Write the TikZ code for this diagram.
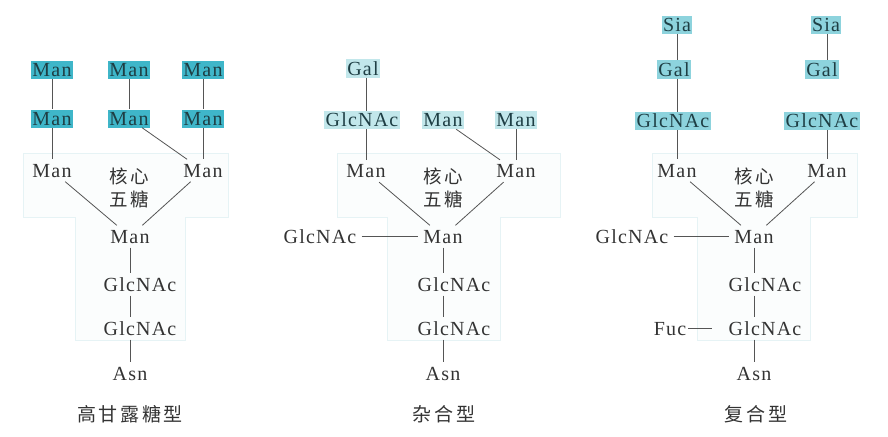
\documentclass[tikz,border=0pt]{standalone}
\usepackage{fontspec}
\setmainfont[LetterSpace=6]{Liberation Serif}
\newfontfamily\cjk[LetterSpace=14]{Noto Sans CJK SC}
\definecolor{hlA}{HTML}{3FB6C9}
\definecolor{hlB}{HTML}{C2E7EB}
\definecolor{hlC}{HTML}{8DD3DD}
\definecolor{txt}{HTML}{333333}
\definecolor{txtD}{HTML}{1E3E44}
\definecolor{bondc}{HTML}{555555}
\definecolor{corel}{HTML}{E6F3F5}
\definecolor{coref}{HTML}{FBFDFD}
\tikzset{
  sug/.style={inner xsep=5pt, inner ysep=4pt, text height=13.5pt, text depth=0.5pt,
    font=\fontsize{20}{22}\selectfont, text=txt},
  hbox/.style={sug, inner xsep=1.5pt, inner ysep=2pt, text=txtD},
  hA/.style={hbox, fill=hlA},
  hB/.style={hbox, fill=hlB},
  hC/.style={hbox, fill=hlC},
  corelab/.style={font=\cjk\fontsize{18.5}{23}\selectfont, text=txt, align=center, inner sep=0pt},
  typelab/.style={font=\cjk\fontsize{19}{20}\selectfont, text=txt, inner sep=0pt},
  bond/.style={draw=bondc, line width=0.8pt},
  corebox/.style={draw=corel, fill=coref, line width=0.8pt}
}
\begin{document}
\begin{tikzpicture}[x=1pt,y=-1pt]
\useasboundingbox (0,0) rectangle (888,436);
% core regions
\path[corebox] (23,153) -- (228,153) -- (228,217) -- (185,217) -- (185,340) -- (75,340) -- (75,217) -- (23,217) -- cycle;
\path[corebox] (337,153) -- (560,153) -- (560,217) -- (500,217) -- (500,340) -- (387,340) -- (387,217) -- (337,217) -- cycle;
\path[corebox] (652,153) -- (857,153) -- (857,217) -- (810,217) -- (810,340) -- (697,340) -- (697,217) -- (652,217) -- cycle;

% ---------- panel 1: high mannose ----------
\node[hA] (a1) at (52,70) {Man};
\node[hA] (a2) at (129,70) {Man};
\node[hA] (a3) at (203,70) {Man};
\node[hA] (b1) at (52,118.5) {Man};
\node[hA] (b2) at (129,118.5) {Man};
\node[hA] (b3) at (203,118.5) {Man};
\node[sug] (c1) at (52,170.5) {Man};
\node[sug] (c2) at (203,170.5) {Man};
\node[corelab] (k1) at (129,188) {核心\\五糖};
\node[sug] (d1) at (130,236.5) {Man};
\node[sug] (e1) at (140,284.5) {GlcNAc};
\node[sug] (f1) at (140,328.5) {GlcNAc};
\node[sug] (g1) at (130,373.5) {Asn};
\node[typelab] (l1) at (130,414) {高甘露糖型};
\draw[bond] (a1) -- (b1);
\draw[bond] (b1) -- (c1);
\draw[bond] (a2) -- (b2);
\draw[bond] (b2) -- (c2);
\draw[bond] (a3) -- (b3);
\draw[bond] (b3) -- (c2);
\draw[bond] (c1) -- (d1);
\draw[bond] (c2) -- (d1);
\draw[bond] (d1.south) -- (d1.south |- e1.north);
\draw[bond] (d1.south |- e1.south) -- (d1.south |- f1.north);
\draw[bond] (d1.south |- f1.south) -- (g1.north);

% ---------- panel 2: hybrid ----------
\node[hB] (p2gal) at (363,68.5) {Gal};
\node[hB] (p2n) at (362,120) {GlcNAc};
\node[hB] (p2ma) at (443,120) {Man};
\node[hB] (p2mb) at (516,120) {Man};
\node[sug] (p2c1) at (366,171) {Man};
\node[sug] (p2c2) at (516,171) {Man};
\node[corelab] (k2) at (443,188) {核心\\五糖};
\node[sug] (p2s) at (320,236.5) {GlcNAc};
\node[sug] (d2) at (443,236.5) {Man};
\node[sug] (e2) at (454,284.5) {GlcNAc};
\node[sug] (f2) at (454,328.5) {GlcNAc};
\node[sug] (g2) at (443,373.5) {Asn};
\node[typelab] (l2) at (444,414) {杂合型};
\draw[bond] (p2c1.north |- p2gal.south) -- (p2c1.north |- p2n.north);
\draw[bond] (p2c1.north |- p2n.south) -- (p2c1.north);
\draw[bond] (p2ma) -- (p2c2);
\draw[bond] (p2mb) -- (p2c2);
\draw[bond] (p2c1) -- (d2);
\draw[bond] (p2c2) -- (d2);
\draw[bond] (p2s) -- (d2);
\draw[bond] (d2.south) -- (d2.south |- e2.north);
\draw[bond] (d2.south |- e2.south) -- (d2.south |- f2.north);
\draw[bond] (d2.south |- f2.south) -- (g2.north);

% ---------- panel 3: complex ----------
\node[hC] (s1) at (677,25) {Sia};
\node[hC] (s2) at (826,25) {Sia};
\node[hC] (ga1) at (674,69.5) {Gal};
\node[hC] (ga2) at (822,69.5) {Gal};
\node[hC] (n1) at (673,121) {GlcNAc};
\node[hC] (n2) at (822,121) {GlcNAc};
\node[sug] (m1) at (677,170.5) {Man};
\node[sug] (m2) at (827,170.5) {Man};
\node[corelab] (k3) at (754,188) {核心\\五糖};
\node[sug] (p3s) at (632,236.5) {GlcNAc};
\node[sug] (d3) at (754,236.5) {Man};
\node[sug] (e3) at (765,284.5) {GlcNAc};
\node[sug] (f3) at (765,328.5) {GlcNAc};
\node[sug] (fuc) at (670,328.5) {Fuc};
\coordinate (fucend) at (712,328.5);
\node[sug] (g3) at (754,373.5) {Asn};
\node[typelab] (l3) at (756,414) {复合型};
\draw[bond] (m1.north |- s1.south) -- (m1.north |- ga1.north);
\draw[bond] (m1.north |- ga1.south) -- (m1.north |- n1.north);
\draw[bond] (m1.north |- n1.south) -- (m1.north);
\draw[bond] (m2.north |- s2.south) -- (m2.north |- ga2.north);
\draw[bond] (m2.north |- n2.south) -- (m2.north);
\draw[bond] (m1) -- (d3);
\draw[bond] (m2) -- (d3);
\draw[bond] (p3s) -- (d3);
\draw[bond] (d3.south) -- (d3.south |- e3.north);
\draw[bond] (d3.south |- e3.south) -- (d3.south |- f3.north);
\draw[bond] (d3.south |- f3.south) -- (g3.north);
\draw[bond] ([xshift=-3pt]fuc.east) -- (fucend);
\end{tikzpicture}
\end{document}
